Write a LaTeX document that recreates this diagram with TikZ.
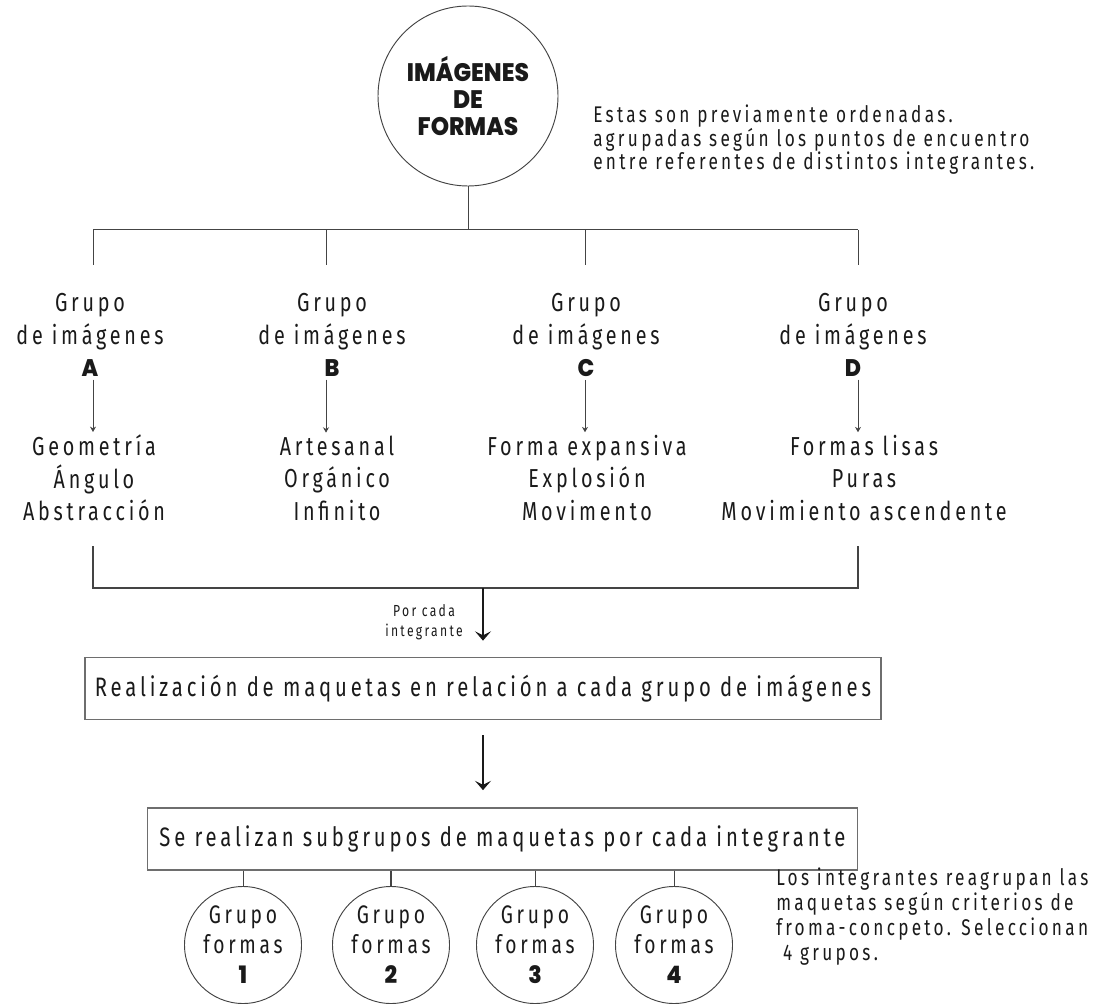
\documentclass[tikz,border=0pt]{standalone}
\usepackage{fontspec}
\usetikzlibrary{arrows.meta}
\setmainfont{Fira Sans}[FakeStretch=0.76, LetterSpace=14.5]
\newfontfamily\heavy{Poppins}[UprightFont={* ExtraBold}, FakeStretch=0.92]
\newcommand\grpmark[1]{{\heavy\fontsize{18}{17}\selectfont #1}}
\definecolor{ink}{HTML}{1A1A1A}
\definecolor{rule}{HTML}{444444}
\definecolor{frame}{HTML}{6E6E6E}
\tikzset{
  grp/.style={align=center, text=ink, font=\fontsize{19.5}{24.5}\selectfont, inner sep=2pt},
  kw/.style={align=center, text=ink, font=\fontsize{19.5}{24.4}\selectfont, inner sep=2pt},
  note/.style={align=left, text=ink, font=\fontsize{17}{17.3}\selectfont, inner sep=0pt},
  stepbox/.style={draw=frame, line width=0.8pt, text=ink, font=\fontsize{20}{22}\selectfont},
  bubble/.style={circle, draw=rule, line width=0.7pt, inner sep=0pt, align=center, text=ink},
  thin/.style={draw=rule, line width=0.75pt},
  smallarr/.style={draw=rule, line width=0.7pt, -{Stealth[length=4pt, width=4.5pt]}},
  bracket/.style={draw=rule, line width=2.2pt},
  bigarr/.style={draw=ink, line width=1.6pt, -{Stealth[length=7pt, width=12pt, inset=3pt]}}
}
\begin{document}
\begin{tikzpicture}[x=0.75pt, y=-0.75pt]
\useasboundingbox[fill=white] (0,0) rectangle (1102,1005);

% title circle
\node[bubble, minimum size=135pt, font=\heavy\fontsize{19}{20.5}\selectfont] (top) at (468,96)
  {IMÁGENES\\DE\\FORMAS};

\node[note, anchor=north west] (note1) at (593,105)
  {Estas son previamente ordenadas.\\
   agrupadas según los puntos de encuentro\\
   entre referentes de distintos integrantes.};

% distribution line
\coordinate (jT) at (468,230);
\coordinate (tA) at (93,230);  \coordinate (bA) at (93,265);
\coordinate (tB) at (326,230); \coordinate (bB) at (326,265);
\coordinate (tC) at (585,230); \coordinate (bC) at (585,265);
\coordinate (tD) at (858,230); \coordinate (bD) at (858,265);
\draw[thin] (top.south) -- (jT);
\draw[thin] (tA) -- (tD);
\draw[thin] (tA) -- (bA);
\draw[thin] (tB) -- (bB);
\draw[thin] (tC) -- (bC);
\draw[thin] (tD) -- (bD);

% image groups
\node[grp] (gA) at (90,335)  {Grupo\\de imágenes\\\grpmark{A}};
\node[grp] (gB) at (332,335) {Grupo\\de imágenes\\\grpmark{B}};
\node[grp] (gC) at (586,335) {Grupo\\de imágenes\\\grpmark{C}};
\node[grp] (gD) at (853,335) {Grupo\\de imágenes\\\grpmark{D}};

\node[kw] (kA) at (94,478)  {Geometría\\Ángulo\\Abstracción};
\node[kw] (kB) at (337,478) {Artesanal\\Orgánico\\Infinito};
\node[kw] (kC) at (587,478) {Forma expansiva\\Explosión\\Movimento};
\node[kw] (kD) at (864,478) {Formas lisas\\Puras\\Movimiento ascendente};

\draw[smallarr] (gA.south -| tA) -- (kA.north -| tA);
\draw[smallarr] (gB.south -| tB) -- (kB.north -| tB);
\draw[smallarr] (gC.south -| tC) -- (kC.north -| tC);
\draw[smallarr] (gD.south -| tD) -- (kD.north -| tD);

% gathering bracket
\coordinate (qA) at (93,546);
\coordinate (qD) at (858,546);
\coordinate (qM) at (483,588);
\draw[bracket] (qA) |- (qD |- qM) -- (qD);

\node[align=center, text=ink, font=\fontsize{12}{15}\selectfont, inner sep=0pt] (per) at (424,622)
  {Por cada\\integrante};

% mock-up steps
\node[stepbox, minimum width=597pt, minimum height=47pt] (box1) at (483,688.5)
  {Realización de maquetas en relación a cada grupo de imágenes};
\draw[bigarr, shorten >=12pt] (qM) -- (qM |- box1.north);

\node[stepbox, minimum width=533pt, minimum height=46.5pt] (box2) at (502.5,839)
  {Se realizan subgrupos de maquetas por cada integrante};
\draw[bigarr, shorten <=11pt, shorten >=13pt] (qM |- box1.south) -- (qM |- box2.north);

% shape groups
\node[bubble, minimum size=87.75pt, font=\fontsize{19}{22.5}\selectfont] (f1) at (243,945) {Grupo\\formas\\\grpmark{1}};
\node[bubble, minimum size=87.75pt, font=\fontsize{19}{22.5}\selectfont] (f2) at (391,945) {Grupo\\formas\\\grpmark{2}};
\node[bubble, minimum size=87.75pt, font=\fontsize{19}{22.5}\selectfont] (f3) at (535,945) {Grupo\\formas\\\grpmark{3}};
\node[bubble, minimum size=87.75pt, font=\fontsize{19}{22.5}\selectfont] (f4) at (674,945) {Grupo\\formas\\\grpmark{4}};

\draw[thin] (f1.north |- box2.south) -- (f1.north);
\draw[thin, line width=1.1pt] (f2.north |- box2.south) -- (f2.north);
\draw[thin] (f3.north |- box2.south) -- (f3.north);
\draw[thin] (f4.north |- box2.south) -- (f4.north);

\node[note, anchor=north west, font=\fontsize{17}{18.75}\selectfont] (note2) at (776,868)
  {Los integrantes reagrupan las\\
   maquetas según criterios de\\
   froma-concpeto. Seleccionan\\
   \hspace*{0.3em}4 grupos.};
\end{tikzpicture}
\end{document}
